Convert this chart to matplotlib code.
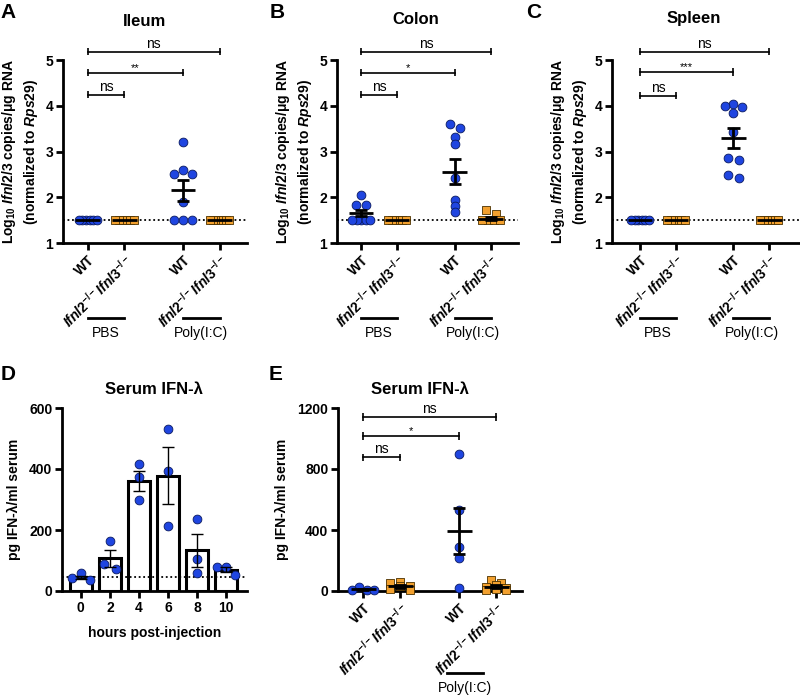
import numpy as np
import matplotlib
matplotlib.use("Agg")
import matplotlib.pyplot as plt
from matplotlib.transforms import blended_transform_factory

plt.rcParams["font.family"] = ["Liberation Sans", "DejaVu Sans"]
plt.rcParams["font.weight"] = "bold"
plt.rcParams["axes.labelweight"] = "bold"
plt.rcParams["mathtext.fontset"] = "custom"
plt.rcParams["mathtext.rm"] = "Liberation Sans:bold"
plt.rcParams["mathtext.it"] = "Liberation Sans:italic:bold"
plt.rcParams["mathtext.bf"] = "Liberation Sans:bold"
plt.rcParams["axes.linewidth"] = 2

BLUE = "#1f45e0"
BLUE_EDGE = "#0a1a60"
ORANGE = "#f2a02e"
ORANGE_EDGE = "#4a3000"

# ---------------- data ----------------
groups = ["WT", r"$\mathit{Ifnl2}^{-/-}\mathit{Ifnl3}^{-/-}$", "WT", r"$\mathit{Ifnl2}^{-/-}\mathit{Ifnl3}^{-/-}$"]
group_pos = [0, 1, 2.6, 3.6]
group_kind = ["wt", "ko", "wt", "ko"]
lod_tissue = 1.5

ileum_pts = [
    [1.5, 1.5, 1.5, 1.5, 1.5, 1.5],
    [1.5, 1.5, 1.5, 1.5, 1.5, 1.5],
    [3.2, 2.6, 2.5, 2.5, 1.9, 1.5, 1.5, 1.5],
    [1.5, 1.5, 1.5, 1.5, 1.5, 1.5, 1.5],
]
ileum_mean = [1.5, 1.5, 2.15, 1.5]
ileum_sem = [0, 0, 0.23, 0]

colon_pts = [
    [2.05, 1.82, 1.82, 1.5, 1.5, 1.5, 1.5, 1.5],
    [1.5, 1.5, 1.5, 1.5, 1.5, 1.5],
    [3.6, 3.52, 3.31, 3.16, 2.42, 1.95, 1.8, 1.68],
    [1.72, 1.63, 1.5, 1.5, 1.5, 1.5],
]
colon_mean = [1.65, 1.5, 2.56, 1.53]
colon_sem = [0.07, 0, 0.27, 0.03]

spleen_pts = [
    [1.5, 1.5, 1.5, 1.5, 1.5, 1.5],
    [1.5, 1.5, 1.5, 1.5, 1.5, 1.5],
    [4.03, 4.0, 3.98, 3.85, 3.42, 2.85, 2.82, 2.48, 2.42],
    [1.5, 1.5, 1.5, 1.5, 1.5, 1.5],
]
spleen_mean = [1.5, 1.5, 3.3, 1.5]
spleen_sem = [0, 0, 0.22, 0]

# significance brackets: (from, to, height, label)
sig_tissue = {
    "A": [(0, 3.6, 5.18, "ns"), (0, 2.6, 4.72, "**"), (0, 1, 4.24, "ns")],
    "B": [(0, 3.6, 5.18, "ns"), (0, 2.6, 4.72, "*"), (0, 1, 4.24, "ns")],
    "C": [(0, 3.6, 5.18, "ns"), (0, 2.6, 4.74, "***"), (0, 1, 4.22, "ns")],
}

hours = [0, 2, 4, 6, 8, 10]
serum_time_pts = [
    [59, 36, 43],
    [164, 72, 88],
    [417, 375, 300],
    [531, 394, 212],
    [237, 104, 58],
    [80, 78, 53],
]
serum_time_mean = [45, 107, 362, 378, 133, 70]
serum_time_sem = [5, 28, 33, 94, 53, 9]
lod_serum = 45

serum_pts = [
    [25, 5, 5, 5],
    [60, 50, 35, 30, 10, 5],
    [898, 532, 291, 219, 22],
    [70, 55, 40, 25, 20, 10, 5, 5],
]
serum_mean = [10, 30, 392, 28]
serum_sem = [5, 9, 150, 9]
sig_serum = [(0, 3.6, 1140, "ns"), (0, 2.6, 1018, "*"), (0, 1, 876, "ns")]

W, H = 800, 698
fig = plt.figure(figsize=(W / 100, H / 100), dpi=100)


def add_ax(l, t, r, b):
    return fig.add_axes([l / W, 1 - b / H, (r - l) / W, (b - t) / H])


def swarm(x0, vals, tol, d, maxw):
    vals = np.asarray(vals, float)
    xs = np.full(len(vals), float(x0))
    order = np.argsort(-vals, kind="stable")
    rows = []
    cur = [order[0]]
    for i in order[1:]:
        if abs(vals[cur[0]] - vals[i]) <= tol:
            cur.append(i)
        else:
            rows.append(cur)
            cur = [i]
    rows.append(cur)
    for row in rows:
        n = len(row)
        if n > 1:
            step = min(d, maxw / (n - 1))
            offs = (np.arange(n) - (n - 1) / 2) * step
            # highest value in the middle
            idx = np.argsort(np.abs(offs), kind="stable")
            xs[np.array(row)] = x0 + offs[idx]
    return xs


def style_ax(ax):
    ax.spines["top"].set_visible(False)
    ax.spines["right"].set_visible(False)
    ax.tick_params(width=2, length=5, labelsize=10, pad=2)


def draw_groups(ax, pts, means, sems, tol, d, maxw):
    for x, kind, vals, m, s in zip(group_pos, group_kind, pts, means, sems):
        xs = swarm(x, vals, tol, d, maxw)
        if kind == "wt":
            ax.scatter(xs, vals, s=40, marker="o", color=BLUE, edgecolor=BLUE_EDGE,
                       linewidth=0.6, zorder=3, clip_on=False)
        else:
            ax.scatter(xs, vals, s=36, marker="s", color=ORANGE, edgecolor=ORANGE_EDGE,
                       linewidth=0.6, zorder=3, clip_on=False)
        ax.hlines(m, x - 0.34, x + 0.34, color="black", lw=2, zorder=4, clip_on=False)
        if s > 0:
            ax.vlines(x, m - s, m + s, color="black", lw=2, zorder=4, clip_on=False)
            ax.hlines([m - s, m + s], x - 0.17, x + 0.17, color="black", lw=2, zorder=4, clip_on=False)


def draw_sig(ax, sigs, tick, star_size=8):
    for x1, x2, y, lab in sigs:
        ax.plot([x1, x2], [y, y], color="black", lw=1.2, clip_on=False)
        ax.vlines([x1, x2], y - tick, y + tick, color="black", lw=1.2, clip_on=False)
        if lab == "ns":
            ax.text((x1 + x2) / 2, y + tick * 0.3, lab, ha="center", va="bottom",
                    fontsize=10, fontweight="normal")
        else:
            ax.text((x1 + x2) / 2, y, lab, ha="center", va="bottom",
                    fontsize=star_size, fontweight="normal")


def group_bar(ax, x1, x2, label, yline, ytext):
    tr = blended_transform_factory(ax.transData, ax.transAxes)
    ax.plot([x1, x2], [yline, yline], color="black", lw=2, transform=tr, clip_on=False)
    ax.text((x1 + x2) / 2, ytext, label, transform=tr, ha="center", va="center",
            fontsize=10, fontweight="normal")


ylab_tissue = "Log$_{10}$ $\\mathit{Ifnl2/3}$ copies/μg RNA\n(normalized to $\\mathit{Rps29}$)"

tissue_specs = [
    ("A", "Ileum", (63, 60, 247, 243), (-0.68, 4.35), ileum_pts, ileum_mean, ileum_sem, (8, 13), (144, 21)),
    ("B", "Colon", (337, 60, 518, 243), (-0.67, 4.36), colon_pts, colon_mean, colon_sem, (277, 13), (416, 19)),
    ("C", "Spleen", (612, 60, 800, 243), (-0.78, 4.45), spleen_pts, spleen_mean, spleen_sem, (534, 13), (694, 19)),
]

for letter, title, box, xl, pts, means, sems, lpos, tpos in tissue_specs:
    ax = add_ax(*box)
    style_ax(ax)
    ax.set_xlim(*xl)
    ax.set_ylim(1, 5)
    ax.set_yticks([1, 2, 3, 4, 5])
    ax.set_xticks(group_pos)
    ax.set_xticklabels(groups, rotation=45, ha="right", rotation_mode="anchor", fontsize=10)
    ax.axhline(lod_tissue, color="black", lw=1.3, ls=(0, (1, 1.5)), zorder=2, clip_on=False)
    draw_groups(ax, pts, means, sems, tol=0.12, d=0.28, maxw=0.5)
    draw_sig(ax, sig_tissue[letter], tick=0.08)
    ax.set_ylabel(ylab_tissue, fontsize=10, labelpad=4, linespacing=1.3)
    group_bar(ax, group_pos[0], group_pos[1], "PBS", -0.41, -0.49)
    group_bar(ax, group_pos[2], group_pos[3], "Poly(I:C)", -0.41, -0.49)
    fig.text(lpos[0] / W, 1 - lpos[1] / H, letter, fontsize=15, fontweight="bold", ha="center", va="center")
    fig.text(tpos[0] / W, 1 - tpos[1] / H, title, fontsize=12, fontweight="bold", ha="center", va="center")

# ---------------- D ----------------
ax = add_ax(62, 408, 247, 591)
style_ax(ax)
ax.set_xlim(-1.3, 11.45)
ax.set_ylim(0, 600)
ax.set_yticks([0, 200, 400, 600])
ax.set_xticks(hours)
ax.bar(hours, serum_time_mean, width=1.55, color="white", edgecolor="black", linewidth=2.2, zorder=1)
for h, vals in zip(hours, serum_time_pts):
    xs = swarm(h, vals, 28, 0.8, 1.2)
    ax.scatter(xs, vals, s=40, color=BLUE, edgecolor=BLUE_EDGE, linewidth=0.6, zorder=3)
ax.errorbar(hours, serum_time_mean, yerr=serum_time_sem, fmt="none", ecolor="black",
            elinewidth=1, capsize=4, capthick=1, zorder=4)
ax.axhline(lod_serum, color="black", lw=1.3, ls=(0, (1, 1.5)), zorder=2)
ax.set_ylabel("pg IFN-λ/ml serum", fontsize=10, labelpad=6)
ax.set_xlabel("hours post-injection", fontsize=10, labelpad=8)
fig.text(8 / W, 1 - 375 / H, "D", fontsize=15, fontweight="bold", ha="center", va="center")
fig.text(154 / W, 1 - 390 / H, "Serum IFN-λ", fontsize=12, fontweight="bold", ha="center", va="center")

# ---------------- E ----------------
ax = add_ax(338, 408, 522, 591)
style_ax(ax)
ax.set_xlim(-0.68, 4.3)
ax.set_ylim(0, 1200)
ax.set_yticks([0, 400, 800, 1200])
ax.set_xticks(group_pos)
ax.set_xticklabels(groups, rotation=45, ha="right", rotation_mode="anchor", fontsize=10)
draw_groups(ax, serum_pts, serum_mean, serum_sem, tol=25, d=0.28, maxw=0.6)
draw_sig(ax, sig_serum, tick=25)
ax.set_ylabel("pg IFN-λ/ml serum", fontsize=10, labelpad=6)
group_bar(ax, 2.27, 3.24, "Poly(I:C)", -0.448, -0.53)
fig.text(276 / W, 1 - 375 / H, "E", fontsize=15, fontweight="bold", ha="center", va="center")
fig.text(420 / W, 1 - 390 / H, "Serum IFN-λ", fontsize=12, fontweight="bold", ha="center", va="center")

fig.savefig("out.png", dpi=100)
